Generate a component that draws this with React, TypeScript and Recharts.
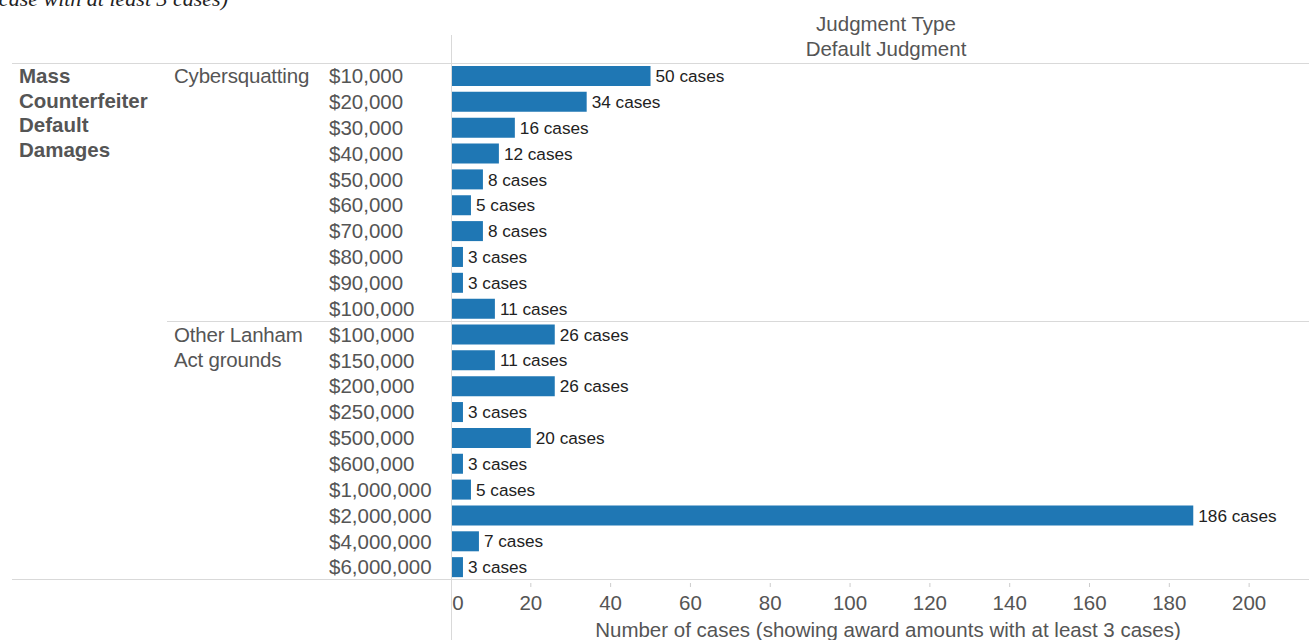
import * as React from 'react';
import { BarChart, Bar, XAxis, YAxis, LabelList } from 'recharts';

const cyberAmounts = ['$10,000', '$20,000', '$30,000', '$40,000', '$50,000', '$60,000', '$70,000', '$80,000', '$90,000', '$100,000'];
const cyberCases = [50, 34, 16, 12, 8, 5, 8, 3, 3, 11];
const lanhamAmounts = ['$100,000', '$150,000', '$200,000', '$250,000', '$500,000', '$600,000', '$1,000,000', '$2,000,000', '$4,000,000', '$6,000,000'];
const lanhamCases = [26, 11, 26, 3, 20, 3, 5, 186, 7, 3];
const groupNames = [['Cybersquatting'], ['Other Lanham', 'Act grounds']];
const outerLabel = ['Mass', 'Counterfeiter', 'Default', 'Damages'];
const xTicks = [0, 20, 40, 60, 80, 100, 120, 140, 160, 180, 200];
const AXIS_TITLE = 'Number of cases (showing award amounts with at least 3 cases)';

const W = 1309;
const H = 640;
const FONT = '"Liberation Sans", Arial, Helvetica, sans-serif';
const GRAY = '#555';
const RULE = '#d9d9d9';
const BLUE = '#1f77b4';
const TOP = 63;
const AXIS_H = 60;
const ROW_H = (H - TOP - AXIS_H) / 20;

const rows = [
  ...cyberAmounts.map((a, i) => ({ id: `c${i}`, amount: a, cases: cyberCases[i], group: 0, first: i === 0 })),
  ...lanhamAmounts.map((a, i) => ({ id: `l${i}`, amount: a, cases: lanhamCases[i], group: 1, first: i === 0 })),
];

function AmountTick(props: any) {
  const { x, y, index } = props;
  const row = rows[index];
  if (!row) return null;
  return (
    <g>
      {row.first && row.group === 1 && (
        <line x1={167} x2={W} y1={y - ROW_H / 2} y2={y - ROW_H / 2} stroke={RULE} strokeWidth={1} />
      )}
      {row.first && row.group === 0 &&
        outerLabel.map((t, i) => (
          <text key={t} x={19} y={y + i * 24.6} dy="0.355em" fill={GRAY} fontFamily={FONT} fontSize={20.5} fontWeight="bold">
            {t}
          </text>
        ))}
      {row.first &&
        groupNames[row.group].map((t, i) => (
          <text key={t} x={174} y={y + i * 25} dy="0.355em" fill={GRAY} fontFamily={FONT} fontSize={20.5} letterSpacing={-0.2}>
            {t}
          </text>
        ))}
      <text x={x - 122} y={y} dy="0.355em" fill={GRAY} fontFamily={FONT} fontSize={20.5} textAnchor="start">
        {row.amount}
      </text>
    </g>
  );
}

function CountTick(props: any) {
  const { x, y, payload } = props;
  const v = payload.value;
  return (
    <g>
      {v !== 0 && <line x1={x} x2={x} y1={y + 3} y2={y + 7} stroke="#ccc" />}
      <text x={v === 0 ? x + 7 : x} y={y + 23} dy="0.355em" textAnchor="middle" fill={GRAY} fontFamily={FONT} fontSize={20.5}>
        {v}
      </text>
    </g>
  );
}

export default function App() {
  return (
    <div style={{ position: 'absolute', left: 0, top: 0, width: W, height: H, background: '#fff' }}>
      <BarChart
        width={W}
        height={H}
        data={rows}
        layout="vertical"
        margin={{ top: TOP, right: 0, bottom: 0, left: 0 }}
      >
        <XAxis
          type="number"
          domain={[0, 215]}
          ticks={xTicks}
          axisLine={false}
          tickLine={false}
          tickSize={0}
          tickMargin={0}
          height={AXIS_H}
          tick={<CountTick />}
          label={{ value: AXIS_TITLE, position: 'insideBottom', offset: 3, dx: 8, fill: GRAY, fontSize: 20.5, fontFamily: FONT }}
        />
        <YAxis
          type="category"
          dataKey="id"
          width={451}
          axisLine={false}
          tickLine={false}
          tickSize={0}
          tickMargin={0}
          interval={0}
          tick={<AmountTick />}
        />
        <Bar dataKey="cases" fill={BLUE} barSize={20} isAnimationActive={false}>
          <LabelList
            dataKey="cases"
            position="right"
            offset={5}
            formatter={(v: any) => `${v} cases`}
            fill="#222"
            fontSize={17.2}
            fontFamily={FONT}
          />
        </Bar>
      </BarChart>
      <svg width={W} height={H} style={{ position: 'absolute', left: 0, top: 0, pointerEvents: 'none' }}>
        <text x={228} y={6} textAnchor="end" fontFamily='"Liberation Serif", "DejaVu Serif", serif' fontStyle="italic" fontSize={22} fill="#222">
          Damages awarded per case with at least 3 cases)
        </text>
        <line x1={12} x2={W} y1={63.5} y2={63.5} stroke={RULE} />
        <line x1={12} x2={W} y1={579.5} y2={579.5} stroke={RULE} />
        <line x1={451.5} x2={451.5} y1={35} y2={H} stroke={RULE} />
        <text x={886} y={24} dy="0.355em" textAnchor="middle" fill={GRAY} fontFamily={FONT} fontSize={20.5}>
          Judgment Type
        </text>
        <text x={886} y={49} dy="0.355em" textAnchor="middle" fill={GRAY} fontFamily={FONT} fontSize={20.5}>
          Default Judgment
        </text>
      </svg>
    </div>
  );
}
